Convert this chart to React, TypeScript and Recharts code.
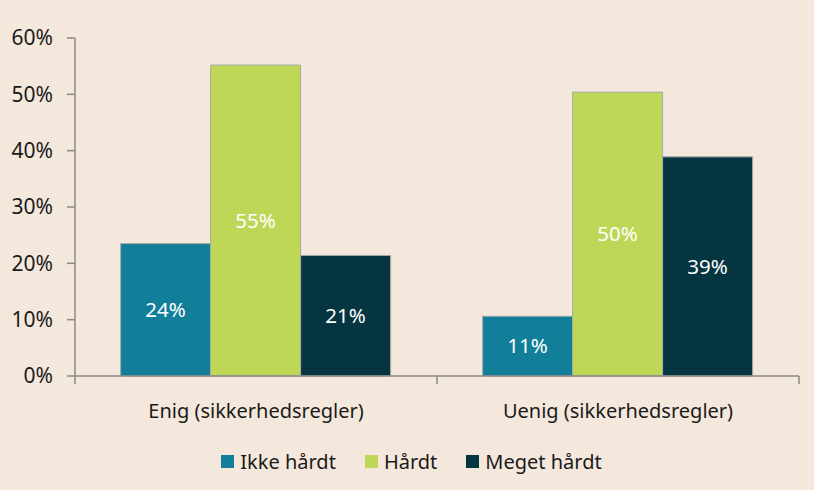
import { BarChart, Bar, XAxis, YAxis, Legend, LabelList } from "recharts";

const categories = ["Enig (sikkerhedsregler)", "Uenig (sikkerhedsregler)"];
const ikkeHaardt = [23.5, 10.6];
const haardt = [55.2, 50.4];
const megetHaardt = [21.4, 38.9];
const yTicks = [0, 10, 20, 30, 40, 50, 60];

const seriesNames = ["Ikke hårdt", "Hårdt", "Meget hårdt"];
const colors = ["#117e9a", "#bed756", "#063542"];

const data = categories.map((name, i) => ({
  name,
  ikke: ikkeHaardt[i],
  haardt: haardt[i],
  meget: megetHaardt[i],
}));

const W = 814;
const H = 490;
const margin = { top: 38, right: 15, left: 0, bottom: 12 };
const yAxisW = 75;
const halfBand = (W - margin.right - yAxisW) / categories.length / 2;
const axisColor = "#8a8a8a";
const font = "'Noto Sans', sans-serif";

function CategoryTick({ x, y, payload, index }: any) {
  const last = index === categories.length - 1;
  return (
    <g>
      <line x1={x - halfBand} x2={x - halfBand} y1={y - 8} y2={y} stroke={axisColor} strokeWidth={1.5} />
      {last && <line x1={x + halfBand} x2={x + halfBand} y1={y - 8} y2={y} stroke={axisColor} strokeWidth={1.5} />}
      <text x={x} y={y + 34} textAnchor="middle" fill="#1a1a1a" fontSize={20} fontFamily={font}>
        {payload.value}
      </text>
    </g>
  );
}

function LegendBox() {
  return (
    <div style={{ display: "flex", justifyContent: "center", alignItems: "center", paddingLeft: 24, fontFamily: font, fontSize: 20, color: "#1a1a1a" }}>
      {seriesNames.map((s, i) => (
        <div key={s} style={{ display: "flex", alignItems: "center", marginRight: i < seriesNames.length - 1 ? 29 : 0 }}>
          <span style={{ width: 13, height: 13, background: colors[i], display: "inline-block", marginRight: 6 }} />
          <span>{s}</span>
        </div>
      ))}
    </div>
  );
}

const pct = (v: any) => `${Math.round(Number(v))}%`;

export default function App() {
  return (
    <div style={{ position: "absolute", left: 0, top: 0, width: W, height: H, background: "#f4e8dc" }}>
      <BarChart width={W} height={H} data={data} margin={margin} barCategoryGap="12.6%" barGap={0}>
        <YAxis
          width={yAxisW}
          domain={[0, 60]}
          ticks={yTicks}
          tickFormatter={(v: number) => `${v}%`}
          axisLine={{ stroke: axisColor, strokeWidth: 1.5 }}
          tickLine={{ stroke: axisColor, strokeWidth: 1.5 }}
          tickSize={8}
          tickMargin={14}
          tick={{ fill: "#1a1a1a", fontSize: 21, fontFamily: font }}
        />
        <XAxis
          dataKey="name"
          height={72}
          axisLine={{ stroke: axisColor, strokeWidth: 1.5 }}
          tickLine={false}
          tick={<CategoryTick />}
          interval={0}
        />
        <Legend verticalAlign="bottom" height={30} content={<LegendBox />} />
        {(["ikke", "haardt", "meget"] as const).map((k, i) => (
          <Bar key={k} dataKey={k} name={seriesNames[i]} fill={colors[i]} stroke="#a3abab" strokeWidth={1} isAnimationActive={false}>
            <LabelList dataKey={k} position="center" formatter={pct} fill="#ffffff" fontSize={20.5} fontFamily={font} />
          </Bar>
        ))}
      </BarChart>
    </div>
  );
}
